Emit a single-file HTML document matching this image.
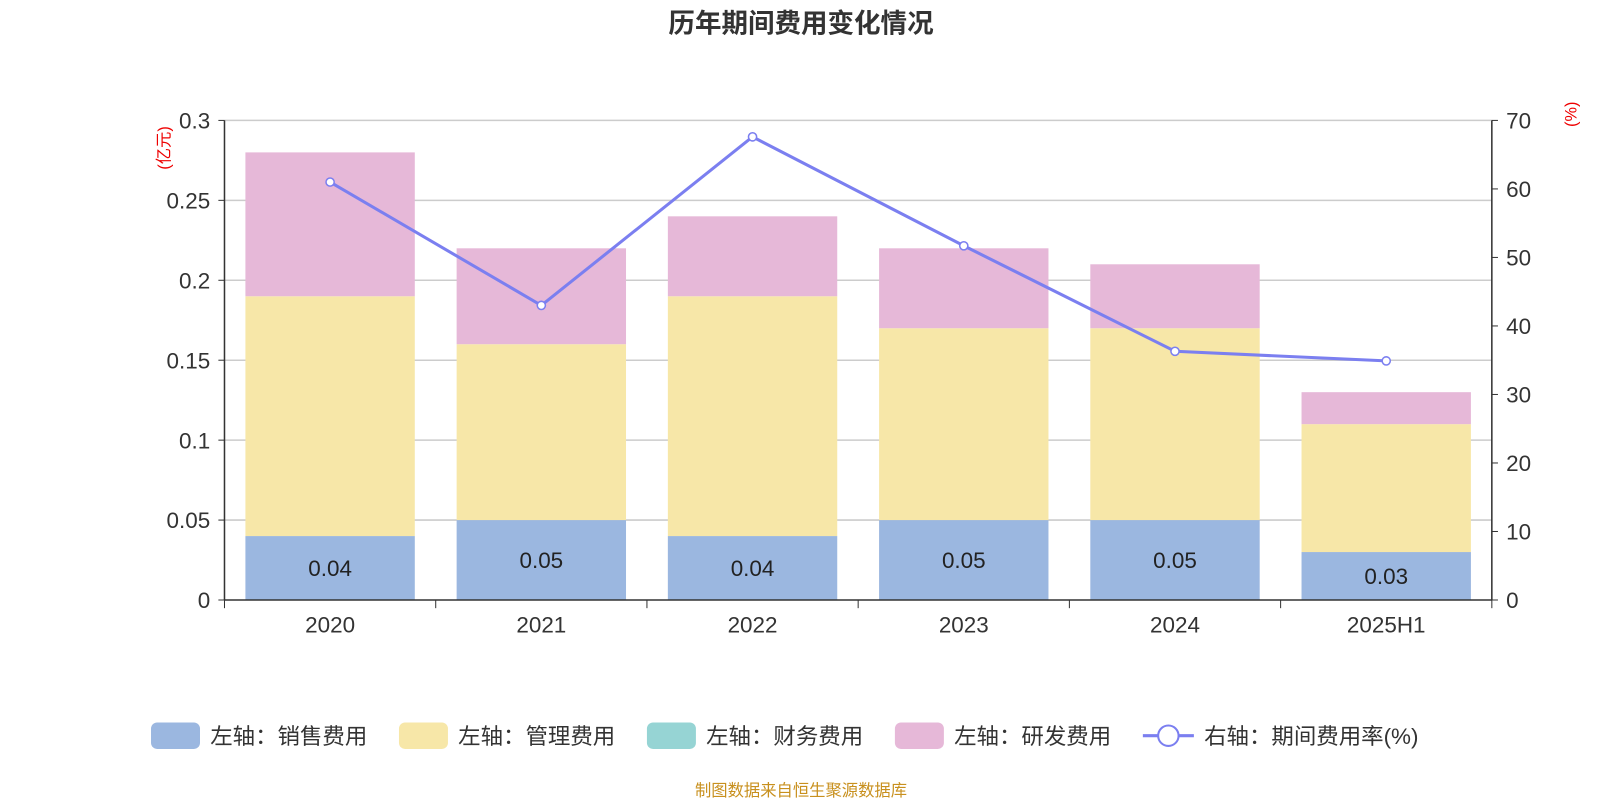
<!DOCTYPE html>
<html><head><meta charset="utf-8"><style>
body{margin:0;background:#fff;font-family:"Liberation Sans","Noto Sans CJK SC",sans-serif;}
svg text{font-family:"Liberation Sans","Noto Sans CJK SC",sans-serif;}
</style></head><body>
<svg id="c" width="1600" height="800" viewBox="0 0 1568 784">
<text x="785" y="32" text-anchor="middle" font-size="26" font-weight="bold" fill="#333">历年期间费用变化情况</text>
<text transform="translate(166,145) rotate(-90)" text-anchor="middle" font-size="16" fill="#e00">(亿元)</text>
<text transform="translate(1545,112) rotate(-90)" text-anchor="middle" font-size="16" fill="#e00">(%)</text>
<g id="grid"></g><g id="bars"></g><g id="axes"></g><g id="line"></g>
<g font-size="22" fill="#333">
<rect x="148" y="708" width="48" height="26" rx="6" fill="#9bb7e0"/>
<text x="206" y="729">左轴：销售费用</text>
<rect x="391" y="708" width="48" height="26" rx="6" fill="#f7e7a8"/>
<text x="449" y="729">左轴：管理费用</text>
<rect x="634" y="708" width="48" height="26" rx="6" fill="#96d4d4"/>
<text x="692" y="729">左轴：财务费用</text>
<rect x="877" y="708" width="48" height="26" rx="6" fill="#e6b8d8"/>
<text x="935" y="729">左轴：研发费用</text>
<line x1="1120" y1="721" x2="1170" y2="721" stroke="#7b7ff0" stroke-width="3"/>
<circle cx="1145" cy="721" r="10" fill="#fff" stroke="#7b7ff0" stroke-width="2"/>
<text x="1180" y="729">右轴：期间费用率(%)</text>
</g>
<text x="785" y="780" text-anchor="middle" font-size="16" fill="#c8901e">制图数据来自恒生聚源数据库</text>
</svg>
<script>
const categories=["2020","2021","2022","2023","2024","2025H1"];
const sales=[0.04,0.05,0.04,0.05,0.05,0.03];
const admin=[0.15,0.11,0.15,0.12,0.12,0.08];
const finance=[0,0,0,0,0,0];
const rd=[0.09,0.06,0.05,0.05,0.04,0.02];
const rate=[61.0,43.0,67.6,51.7,36.3,34.9];
const leftTicks=["0","0.05","0.1","0.15","0.2","0.25","0.3"];
const rightTicks=["0","10","20","30","40","50","60","70"];
const NS="http://www.w3.org/2000/svg";
const L=220,R=1462,T=118,B=588;
const yL=v=>B-v/0.3*(B-T), yR=v=>B-v/70*(B-T);
const bw=(R-L)/categories.length, xc=i=>L+bw*(i+0.5);
function mk(p,tag,a){const e=document.createElementNS(NS,tag);for(const k in a)e.setAttribute(k,a[k]);document.getElementById(p).appendChild(e);return e;}
leftTicks.forEach((t,i)=>{const v=parseFloat(t),y=yL(v);
 if(v>0){const g=mk("grid","line",{x1:L,x2:R,y1:y,y2:y,stroke:"#ccc","stroke-width":1.5});
 
 }
 const tx=mk("axes","text",{x:L-14,y:y+8,"text-anchor":"end","font-size":22,fill:"#333"});tx.textContent=t;
 
 
 mk("axes","line",{x1:L-6,x2:L,y1:y,y2:y,stroke:"#333"});});
rightTicks.forEach(t=>{const y=yR(parseFloat(t));
 const tx=mk("axes","text",{x:R+14,y:y+8,"font-size":22,fill:"#333"});tx.textContent=t;
 
 
 mk("axes","line",{x1:R,x2:R+6,y1:y,y2:y,stroke:"#333"});});
mk("axes","line",{x1:L,x2:L,y1:T,y2:B,stroke:"#333","stroke-width":1.5});
mk("axes","line",{x1:R,x2:R,y1:T,y2:B,stroke:"#333","stroke-width":1.5});
mk("axes","line",{x1:L,x2:R,y1:B,y2:B,stroke:"#333","stroke-width":1.5});
categories.forEach((c,i)=>{
 mk("axes","line",{x1:L+bw*i,x2:L+bw*i,y1:B,y2:B+8,stroke:"#333"});
 if(i==categories.length-1)mk("axes","line",{x1:R,x2:R,y1:B,y2:B+8,stroke:"#333"});
 const tx=mk("axes","text",{x:xc(i),y:B+32,"text-anchor":"middle","font-size":22,fill:"#333"});tx.textContent=c;
 
 
 let base=0;const w=166;
 [[sales,"#9bb7e0","bar-sales"],[admin,"#f7e7a8","bar-admin"],[finance,"#96d4d4","bar-finance"],[rd,"#e6b8d8","bar-rd"]].forEach(([arr,col,nm])=>{
  const v=arr[i];if(v<=0)return;
  const r=mk("bars","rect",{x:xc(i)-w/2,y:yL(base+v),width:w,height:yL(base)-yL(base+v),fill:col});
  
  
  base+=v;});
 const lb=mk("bars","text",{x:xc(i),y:(yL(0)+yL(sales[i]))/2+8,"text-anchor":"middle","font-size":22,fill:"#222"});
 lb.textContent=sales[i].toFixed(2);
 
 
});
const pl=mk("line","polyline",{points:rate.map((v,i)=>xc(i)+","+yR(v)).join(" "),fill:"none",stroke:"#7b7ff0","stroke-width":3});


rate.forEach((v,i)=>{const c=mk("line","circle",{cx:xc(i),cy:yR(v),r:4,fill:"#fff",stroke:"#7b7ff0","stroke-width":1.5});
 
 });
</script>
</body></html>
